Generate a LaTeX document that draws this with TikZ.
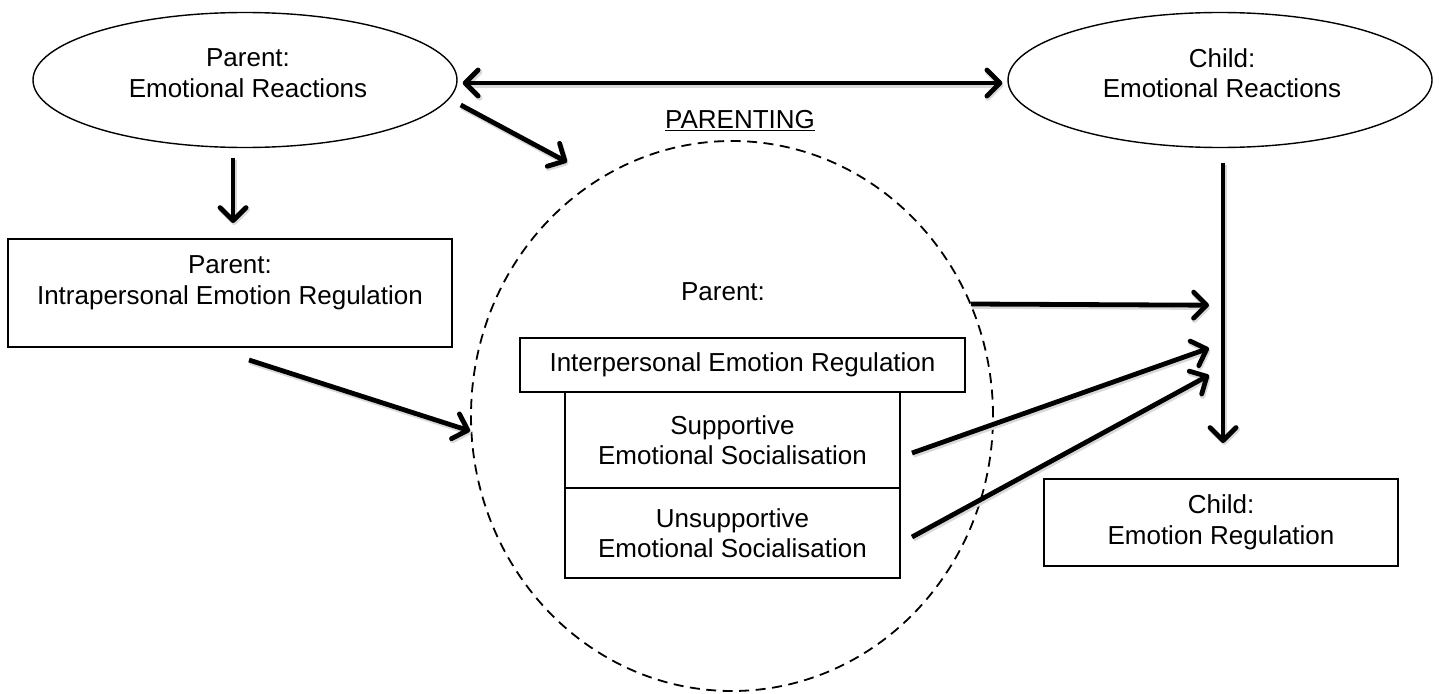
\documentclass[tikz,border=0pt]{standalone}
\usepackage{fontspec}
\setmainfont{Liberation Sans}
\usetikzlibrary{shapes.geometric,arrows.meta,calc}
\tikzset{
  txt/.style={font=\fontsize{26}{30.5}\selectfont, align=center, inner sep=0pt},
  oval/.style={draw, ellipse, line width=1.4pt, minimum width=424pt, minimum height=135pt, inner sep=0pt},
  boxnode/.style={draw, rectangle, line width=2.6pt, inner sep=0pt, outer sep=0pt},
  ring/.style={draw, ellipse, line width=1.8pt, dash pattern=on 10pt off 6.5pt, minimum width=522pt, minimum height=550pt, inner sep=0pt},
  barb/.tip={Straight Barb[length=13pt,width=26pt,round]},
  shade/.style={preaction={draw=black!15, line width=5.5pt, transform canvas={shift={(1.2,2)}}}},
  arr/.style={line width=4.8pt, -barb, shade},
  darr/.style={line width=4.8pt, barb-barb, shade}
}
\begin{document}
\begin{tikzpicture}[x=1pt,y=-1pt]
\useasboundingbox (0,0) rectangle (1439,693);

% ellipses
\node[oval] (pe) at (245,80) {};
\node[txt] (pet) at (248,73) {Parent:\\Emotional Reactions};
\node[oval] (ce) at (1220,80) {};
\node[txt] (cet) at (1222,73) {Child:\\Emotional Reactions};

% parenting ring
\node[ring] (circ) at (732,416) {};
\node[txt] (plab) at (740,121) {\underline{PARENTING}};
\node[txt] (pp) at (723,292) {Parent:};

% boxes
\node[boxnode, minimum width=444pt, minimum height=108pt] (ib) at (230,293) {};
\node[txt] (ibt) at (230,283) {Parent:\\Intrapersonal Emotion Regulation};
\node[boxnode, txt, minimum width=445pt, minimum height=54pt] (irb) at (742.5,365) {Interpersonal Emotion Regulation};
\node[boxnode, txt, minimum width=335pt, minimum height=96pt] (sb) at (732.5,440) {Supportive\\Emotional Socialisation};
\node[boxnode, txt, minimum width=335pt, minimum height=90pt] (ub) at (732.5,533) {Unsupportive\\Emotional Socialisation};
\node[boxnode, txt, minimum width=354pt, minimum height=87pt] (cr) at (1221,522.5) {Child:\\Emotion Regulation};

% helper coordinates
\coordinate (vt) at ($(ce.south)+(3,15)$);
\coordinate (vb) at ($(cr.north)+(2,-36)$);
\coordinate (t1) at ($(vt)+(-14,142)$);
\coordinate (t2) at ($(vt)+(-14,185)$);
\coordinate (t3) at ($(vt)+(-14,212)$);

% connectors
\draw[darr] ($(pe.east)+(5,3)$) -- ($(ce.west)+(-5,3)$);
\draw[arr] ($(pe.east)+(3,25)$) -- ($(circ.north)+(-165,22)$);
\draw[arr] ($(pe.south)+(-12,10)$) -- ($(ib.north)+(3,-16)$);
\draw[arr] ($(ib.south)+(19,13)$) -- ($(circ.west)+(0,15)$);
\draw[arr] ($(circ.east)+(-23,-112)$) -- (t1);
\draw[arr] ($(sb.east)+(12,13)$) -- (t2);
\draw[arr] ($(ub.east)+(12,4)$) -- (t3);
\draw[arr] (vt) -- (vb);
\end{tikzpicture}
\end{document}
